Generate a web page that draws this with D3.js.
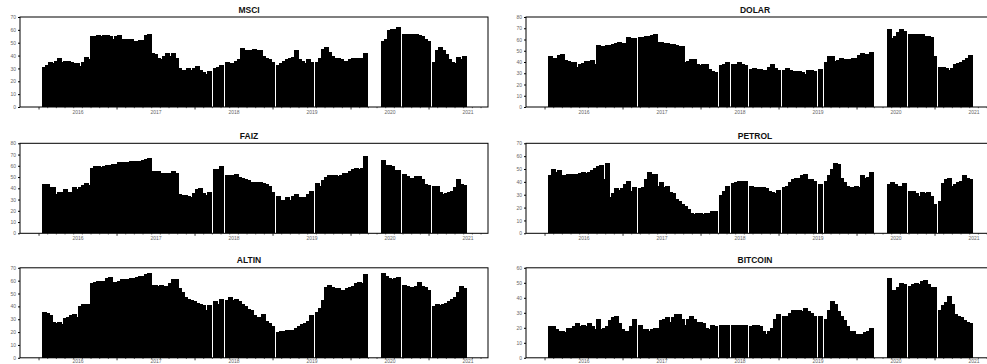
<!DOCTYPE html>
<html>
<head>
<meta charset="utf-8">
<script src="https://cdn.jsdelivr.net/npm/d3@7"></script>
<style>
  body { margin: 0; background: #fff; }
  svg { display: block; font-family: Arial, "Liberation Sans", sans-serif; }
</style>
</head>
<body>
<svg id="chart" width="987" height="364"></svg>
<script>
// observations every two weeks, mid 2015 .. end 2020 (141 points)
const startYear = 2015.55;
const step = 1 / 26;
const yearLabels = [2016, 2017, 2018, 2019, 2020, 2021];

const msci = [
  31, 33, 35, 34, 36, 38, 35, 36, 36, 35,
  34, 34, 32, 35, 39, 37, 55, 55, 56, 55,
  56, 56, 55, 53, 55, 56, 53, 53, 53, 53,
  51, 51, 52, 52, 56, 57, 42, 41, 38, 37,
  40, 42, 40, 42, 38, 30, 29, 29, 30, 29,
  30, 32, 29, 27, 26, 28, null, 30, 31, 33,
  null, 35, 34, 34, 36, 37, 46, 44, 44, 44,
  45, 44, 44, 40, 38, 37, 35, null, 33, 34,
  36, 37, 38, 39, 44, 37, 36, 34, 37, 35,
  null, 35, 38, 45, 47, 43, 40, 38, 38, 37,
  36, 36, 37, 38, 38, 38, 38, 42, null, null,
  null, null, null, 51, 53, 60, 61, 61, 62, null,
  57, 57, 57, 57, 57, 56, 55, 53, 51, null,
  35, 44, 47, 44, 41, 37, 35, 34, 39, 37, 40
];

const dolar = [
  45, 44, 44, 46, 47, 42, 41, 40, 40, 36,
  38, 39, 41, 41, 42, 38, 55, 54, 54, 55,
  55, 56, 57, 58, 57, 57, 62, 61, 61, null,
  62, 62, 63, 63, 64, 65, 58, 58, 57, 57,
  56, 56, 55, 54, 54, 40, 41, 43, 43, 38,
  37, 38, 38, 34, 32, 31, null, 37, 38, 40,
  null, 38, 38, 40, 38, 37, null, 34, 35, 34,
  34, 33, 33, 36, 38, 35, 33, null, 33, 35,
  33, 32, 32, 32, 31, 29, 33, 33, 32, null,
  34, null, 40, 45, 45, 41, 42, 44, 43, 43,
  43, 44, 44, 46, 48, 47, 47, 49, null, null,
  null, null, null, 69, 61, 63, 67, 69, 68, null,
  65, 65, 65, 65, 65, 63, 63, 62, 45, null,
  36, 36, 35, 33, 35, 38, 39, 40, 42, 44, 46
];

const faiz = [
  44, 44, 41, 41, 35, 37, 37, 39, 37, 37,
  41, 39, 41, 43, 45, 43, 58, 60, 60, 59,
  60, 61, 61, 62, 62, 63, 63, 63, 63, 64,
  64, 64, 64, 65, 66, 67, 55, 55, 55, 54,
  54, 54, 54, 55, 54, 35, 34, 34, 33, 32,
  36, 39, 40, 36, 34, 37, null, 57, 57, 60,
  null, 52, 52, 52, 53, 50, 49, 48, 47, 46,
  46, 46, 46, 45, 44, 42, 37, null, 33, 30,
  30, 32, 30, 33, 35, 32, 32, 32, 35, 38,
  null, 45, 42, 47, 50, 52, 52, 52, 51, 52,
  54, 54, 55, 57, 58, 57, 58, 69, null, null,
  null, null, null, 65, 61, 61, 60, 56, 56, null,
  53, 51, 49, 49, 51, 51, 48, 44, 43, null,
  42, 42, 37, 35, 36, 37, 38, 41, 48, 44, 43
];

const petrol = [
  45, 50, 48, 49, 45, 45, 46, 46, 46, 46,
  47, 48, 47, 48, 49, 51, 52, 53, 42, 55,
  28, 31, 35, 34, 35, 38, 41, 33, 36, null,
  35, 36, 42, 48, 46, 46, 37, 40, 36, 37,
  32, 31, 27, 25, 23, 21, 19, 16, 15, 16,
  16, 15, 16, 16, 17, 17, null, 30, 33, 37,
  null, 39, 40, 41, 41, 41, null, 37, 36, 36,
  36, 36, 35, 33, 32, 31, 34, null, 36, 37,
  40, 42, 43, 43, 45, 46, 42, 42, 41, null,
  38, null, 41, 45, 50, 55, 54, 43, 40, 37,
  36, 36, 37, 36, 45, 43, 44, 48, null, null,
  null, null, null, 38, 40, 38, 37, 37, 39, null,
  33, 33, 31, 29, 32, 31, 32, 29, 23, null,
  25, 39, 42, 43, 37, 38, 40, 41, 45, 43, 42
];

const altin = [
  36, 35, 33, 28, 27, 28, 26, 31, 32, 33,
  34, 32, 40, 42, 42, 42, 58, 59, 60, 60,
  60, 62, 63, 59, 59, 60, 61, 61, 61, 62,
  62, 63, 64, 64, 65, 66, 57, 57, 56, 57,
  56, 56, 58, 61, 61, 54, 51, 47, 46, 45,
  44, 43, 42, 41, 37, 41, null, 44, 42, 46,
  null, 45, 47, 45, 46, 44, 42, 40, 38, 37,
  33, 32, 32, 34, 29, 27, 25, null, 20, 21,
  21, 22, 22, 22, 23, 25, 26, 27, 29, 33,
  null, 36, 39, 45, 55, 57, 55, 54, 54, 53,
  53, 54, 55, 56, 58, 59, 58, 65, null, null,
  null, null, null, 66, 64, 62, 61, 62, 63, null,
  57, 56, 55, 55, 56, 59, 56, 55, 53, null,
  40, 42, 41, 42, 43, 44, 46, 47, 51, 56, 54
];

const bitcoin = [
  21, 21, 19, 18, 18, 17, 20, 20, 21, 23,
  21, 22, 21, 23, 21, 19, 26, 19, 20, 21,
  25, 27, 28, 23, 19, 18, 18, 21, 26, null,
  22, 19, 19, 18, 19, 20, 20, 25, 26, 27,
  24, 27, 29, 29, 26, 22, 26, 28, 26, 24,
  24, 23, 20, 19, 22, 21, null, 22, 22, 22,
  null, 22, 22, 22, 22, 22, null, 21, 22, 22,
  21, 18, 16, 18, 20, 26, 29, null, 28, 28,
  30, 32, 32, 32, 31, 33, 31, 30, 28, null,
  28, null, 26, 32, 38, 36, 31, 28, 25, 21,
  18, 18, 16, 16, 16, 17, 18, 20, null, null,
  null, null, null, 53, 45, 45, 47, 50, 49, null,
  48, 49, 50, 49, 51, 52, 49, 47, 47, null,
  32, 35, 37, 41, 36, 29, 28, 27, 25, 24, 23
];

const panels = [
  {title: 'MSCI', values: msci, yMax: 70, col: 0, row: 0},
  {title: 'DOLAR', values: dolar, yMax: 80, col: 1, row: 0},
  {title: 'FAIZ', values: faiz, yMax: 80, col: 0, row: 1},
  {title: 'PETROL', values: petrol, yMax: 70, col: 1, row: 1},
  {title: 'ALTIN', values: altin, yMax: 70, col: 0, row: 2},
  {title: 'BITCOIN', values: bitcoin, yMax: 60, col: 1, row: 2}
];

// layout of the 3x2 grid
const colLeft = [20, 526];
const rowTop = [17, 143.3, 267.8];
const plotW = 468;
const plotH = 90;
const xDomain = [2015.256, 2021.256];

const svg = d3.select('#chart');

panels.forEach(drawPanel);

function drawPanel(p) {
  const left = colLeft[p.col];
  const top = rowTop[p.row];
  const bottom = top + plotH;

  const x = d3.scaleLinear().domain(xDomain).range([left, left + plotW]);
  const y = d3.scaleLinear().domain([0, p.yMax]).range([bottom, top]);

  const g = svg.append('g').attr('class', 'panel');

  const points = p.values
    .map((v, i) => ({t: startYear + i * step, v: v}))
    .filter(d => d.v !== null);

  // bars, a little wider than the step so single missing weeks show as thin white lines
  g.append('g')
    .attr('shape-rendering', 'crispEdges')
    .selectAll('rect')
    .data(points)
    .join('rect')
    .attr('x', d => x(d.t) - 1)
    .attr('width', d => x(d.t + step) - x(d.t) + 2)
    .attr('y', d => y(d.v))
    .attr('height', d => y(0) - y(d.v))
    .attr('fill', '#000');

  // frame
  g.append('rect')
    .attr('x', left)
    .attr('y', top)
    .attr('width', plotW)
    .attr('height', plotH)
    .attr('fill', 'none')
    .attr('stroke', '#000')
    .attr('stroke-width', 1);

  // y axis
  const yAxis = d3.axisLeft(y)
    .tickValues(d3.range(0, p.yMax + 1, 10))
    .tickSize(2)
    .tickPadding(2);
  const ya = g.append('g').attr('transform', `translate(${left},0)`).call(yAxis);
  ya.select('.domain').remove();
  ya.selectAll('text').attr('font-size', 5).attr('fill', '#666').attr('font-family', null);

  // x axis: long ticks at mid-year, short ticks between, year labels
  const majors = d3.range(2015.5, 2021.3, 1);
  const minors = d3.range(2015.5, 2021.25, 1 / 9).filter(t => Math.abs(t - Math.round(t - 0.5) - 0.5) > 0.01);

  g.append('g').selectAll('line.major')
    .data(majors)
    .join('line')
    .attr('x1', d => x(d)).attr('x2', d => x(d))
    .attr('y1', bottom).attr('y2', bottom + 2.5)
    .attr('stroke', '#000').attr('stroke-width', 0.8);

  g.append('g').selectAll('line.minor')
    .data(minors)
    .join('line')
    .attr('x1', d => x(d)).attr('x2', d => x(d))
    .attr('y1', bottom).attr('y2', bottom + 1.2)
    .attr('stroke', '#000').attr('stroke-width', 0.6);

  // the bottom row sits on the page edge, keep its labels inside
  const labelY = Math.min(bottom + 6.8, 363);
  g.append('g').selectAll('text')
    .data(yearLabels)
    .join('text')
    .attr('x', d => x(d))
    .attr('y', labelY)
    .attr('text-anchor', 'middle')
    .attr('font-size', 5)
    .attr('fill', '#666')
    .text(d => d);

  // title
  g.append('text')
    .attr('x', left + plotW / 2 - 5)
    .attr('y', top - 4.5)
    .attr('text-anchor', 'middle')
    .attr('font-size', 8.5)
    .attr('font-weight', 'bold')
    .attr('fill', '#111')
    .text(p.title);
}
</script>
</body>
</html>
